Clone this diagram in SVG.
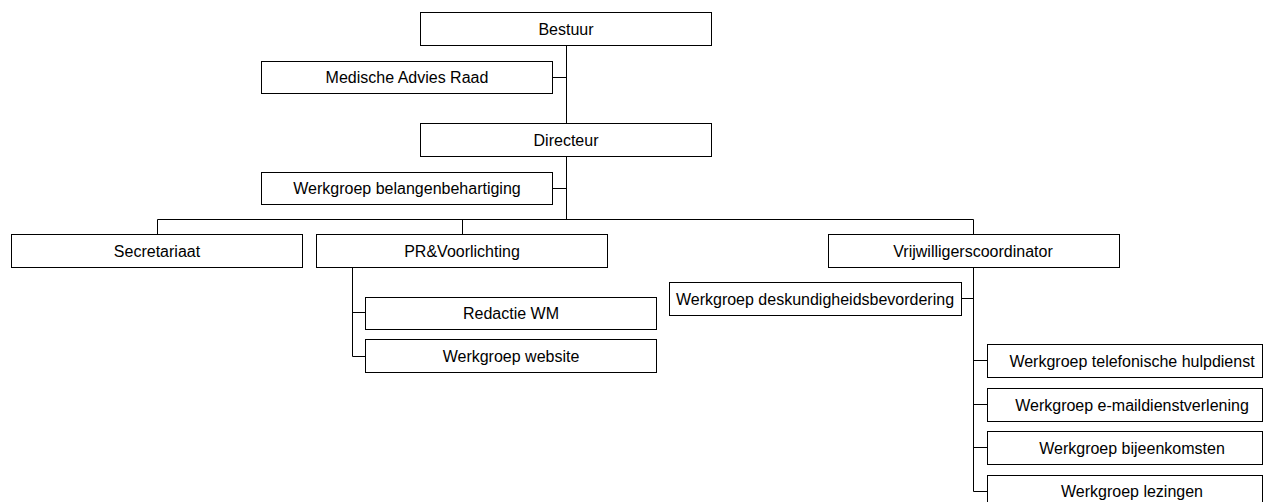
<svg xmlns="http://www.w3.org/2000/svg" width="1264" height="502" viewBox="0 0 1264 502">
<style>
.box{fill:#fff;stroke:#000;stroke-width:1}
.t{font-family:"Liberation Sans",Arial,sans-serif;font-size:16px;fill:#000;text-anchor:middle}
.c{fill:none;stroke:#000;stroke-width:1}
</style>
<rect width="1264" height="502" fill="#fff"/>
<g id="connectors">
<path class="c" d="M566.5 45V219.5M552 77.5H566.5M552 188.5H566.5"/>
<path class="c" d="M157.5 234V219.5H973.5V234M462.5 219.5V234"/>
<path class="c" d="M352.5 267V356.5H365M352.5 312.5H365"/>
<path class="c" d="M973.5 267V491.5H987M961 298.5H973.5M973.5 360.5H987M973.5 404.5H987M973.5 447.5H987"/>
</g>
<g id="bestuur"><rect class="box" x="420.5" y="12.5" width="291" height="33"/><text class="t" x="566" y="35">Bestuur</text></g>
<g id="medische"><rect class="box" x="261.5" y="61.5" width="291" height="32"/><text class="t" x="407" y="83">Medische Advies Raad</text></g>
<g id="directeur"><rect class="box" x="420.5" y="123.5" width="291" height="33"/><text class="t" x="566" y="146">Directeur</text></g>
<g id="belangen"><rect class="box" x="261.5" y="172.5" width="291" height="32"/><text class="t" x="407" y="194">Werkgroep belangenbehartiging</text></g>
<g id="secretariaat"><rect class="box" x="11.5" y="234.5" width="291" height="33"/><text class="t" x="157" y="257">Secretariaat</text></g>
<g id="pr"><rect class="box" x="316.5" y="234.5" width="291" height="33"/><text class="t" x="462" y="257">PR&amp;Voorlichting</text></g>
<g id="vrijwilligers"><rect class="box" x="828.5" y="234.5" width="291" height="33"/><text class="t" x="973" y="257">Vrijwilligerscoordinator</text></g>
<g id="deskundig"><rect class="box" x="669.5" y="282.5" width="292" height="33"/><text class="t" x="815" y="305">Werkgroep deskundigheidsbevordering</text></g>
<g id="redactie"><rect class="box" x="365.5" y="297.5" width="291" height="32"/><text class="t" x="511" y="319">Redactie WM</text></g>
<g id="website"><rect class="box" x="365.5" y="339.5" width="291" height="33"/><text class="t" x="511" y="362">Werkgroep website</text></g>
<g id="telefonisch"><rect class="box" x="987.5" y="344.5" width="275" height="33"/><text class="t" x="1132" y="367">Werkgroep telefonische hulpdienst</text></g>
<g id="email"><rect class="box" x="987.5" y="388.5" width="275" height="33"/><text class="t" x="1132" y="411">Werkgroep e-maildienstverlening</text></g>
<g id="bijeenkomsten"><rect class="box" x="987.5" y="431.5" width="275" height="33"/><text class="t" x="1132" y="454">Werkgroep bijeenkomsten</text></g>
<g id="lezingen"><rect class="box" x="987.5" y="475.5" width="275" height="33"/><text class="t" x="1132" y="497">Werkgroep lezingen</text></g>
</svg>
